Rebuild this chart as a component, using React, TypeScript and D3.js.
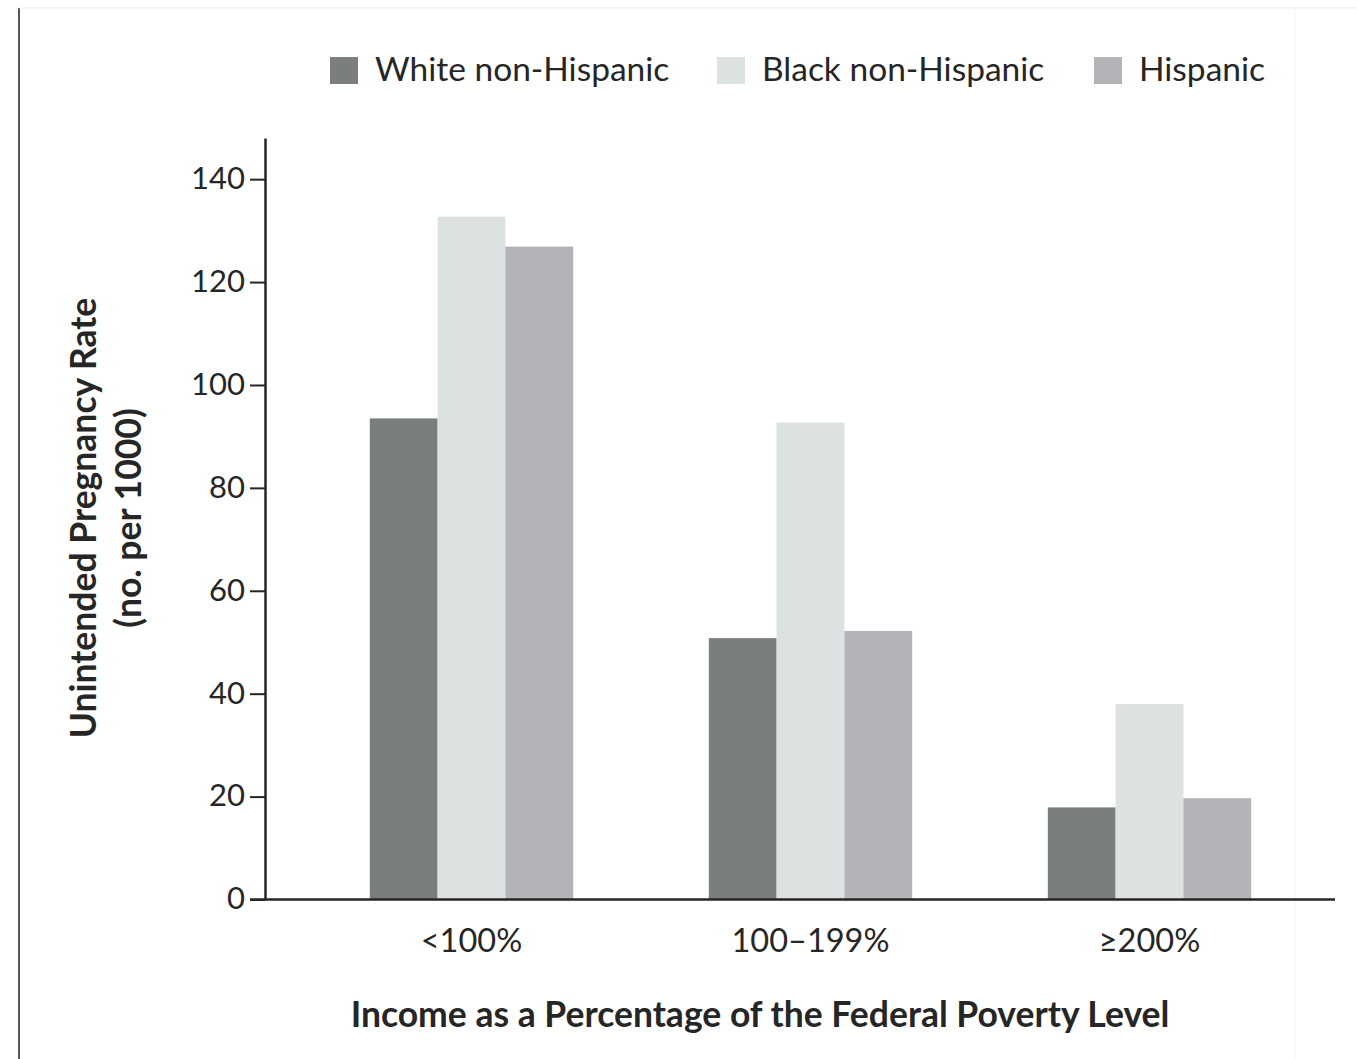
import React, { useRef, useEffect } from "react";
import * as d3 from "d3";

const categories = ["<100%", "100\u2013199%", "\u2265200%"];
const seriesNames = ["White non-Hispanic", "Black non-Hispanic", "Hispanic"];
const whiteValues = [93.5, 50.8, 17.9];
const blackValues = [132.7, 92.7, 38.0];
const hispanicValues = [126.9, 52.2, 19.7];
const yTicks = [0, 20, 40, 60, 80, 100, 120, 140];

const colors = ["#7a7e7e", "#dce1e1", "#b3b4b7"];
const FONT = "Lato, 'Open Sans', sans-serif";
const INK = "#262626";

const App = () => {
  const node: any = useRef();

  useEffect(() => {
    const svg = d3.select(node.current);
    svg.selectAll("*").remove();

    const values = [whiteValues, blackValues, hispanicValues];
    const rows = categories.map((c, i) => ({
      category: c,
      values: seriesNames.map((s, j) => ({ series: s, value: values[j][i] })),
    }));

    // page frame lines
    svg.append("line").attr("x1", 19).attr("x2", 19).attr("y1", 8).attr("y2", 1059)
      .attr("stroke", "#555").attr("stroke-width", 2);
    svg.append("line").attr("x1", 19).attr("x2", 1357).attr("y1", 8).attr("y2", 8)
      .attr("stroke", "#eee").attr("stroke-width", 1);
    svg.append("line").attr("x1", 1295).attr("x2", 1295).attr("y1", 8).attr("y2", 1059)
      .attr("stroke", "#f4f4f4").attr("stroke-width", 1);

    const x0 = d3.scaleBand().domain(categories).range([302, 1319]).paddingInner(0.4).paddingOuter(0.2);
    const x1 = d3.scaleBand().domain(seriesNames).range([0, x0.bandwidth()]);
    const y = d3.scaleLinear().domain([0, 148]).range([899.5, 138]);
    const color = d3.scaleOrdinal<string>().domain(seriesNames).range(colors);

    // bars
    svg.append("g")
      .selectAll("g")
      .data(rows)
      .enter()
      .append("g")
      .attr("transform", (d) => `translate(${x0(d.category)},0)`)
      .selectAll("rect")
      .data((d) => d.values)
      .enter()
      .append("rect")
      .attr("x", (d) => x1(d.series) as number)
      .attr("y", (d) => y(d.value))
      .attr("width", x1.bandwidth())
      .attr("height", (d) => y(0) - y(d.value))
      .attr("fill", (d) => color(d.series));

    // Y axis
    const yAxis = svg.append("g")
      .attr("transform", "translate(265,0)")
      .call(d3.axisLeft(y).tickValues(yTicks).tickSize(15).tickPadding(5).tickSizeOuter(0));
    yAxis.select(".domain").attr("stroke", INK).attr("stroke-width", 2.5);
    yAxis.selectAll(".tick line").attr("stroke", INK).attr("stroke-width", 2);
    yAxis.selectAll(".tick text")
      .attr("font-family", FONT).attr("font-size", 31).attr("fill", INK).attr("dy", "0.3em");

    // X axis
    svg.append("line").attr("x1", 250).attr("x2", 1335).attr("y1", y(0)).attr("y2", y(0))
      .attr("stroke", INK).attr("stroke-width", 2.5);
    svg.append("g")
      .selectAll("text")
      .data(categories)
      .enter()
      .append("text")
      .attr("x", (d) => (x0(d) as number) + x0.bandwidth() / 2)
      .attr("y", 952)
      .attr("text-anchor", "middle")
      .attr("font-family", FONT).attr("font-size", 32.5).attr("fill", INK)
      .text((d) => d);

    // axis titles
    svg.append("text")
      .attr("x", 760).attr("y", 1027)
      .attr("text-anchor", "middle")
      .attr("font-family", FONT).attr("font-weight", "bold").attr("font-size", 35.5).attr("fill", INK)
      .text("Income as a Percentage of the Federal Poverty Level");

    const yTitle = svg.append("text")
      .attr("transform", "translate(96,518) rotate(-90)")
      .attr("text-anchor", "middle")
      .attr("font-family", FONT).attr("font-weight", "bold").attr("font-size", 35.5).attr("fill", INK);
    yTitle.append("tspan").attr("x", 0).attr("y", 0).text("Unintended Pregnancy Rate");
    yTitle.append("tspan").attr("x", 0).attr("y", 45).text("(no. per 1000)");

    // legend
    const legendX = [330, 717, 1094];
    const legend = svg.append("g")
      .selectAll("g")
      .data(seriesNames)
      .enter()
      .append("g")
      .attr("transform", (d, i) => `translate(${legendX[i]},57)`);
    legend.append("rect").attr("width", 28).attr("height", 27).attr("fill", (d) => color(d));
    legend.append("text")
      .attr("x", 45).attr("y", 24)
      .attr("font-family", FONT).attr("font-size", 33.5).attr("fill", INK)
      .text((d) => d);
  }, []);

  return (
    <svg
      ref={node}
      width={1357}
      height={1059}
      style={{ position: "absolute", left: 0, top: 0, background: "#fff" }}
    ></svg>
  );
};

export default App;
